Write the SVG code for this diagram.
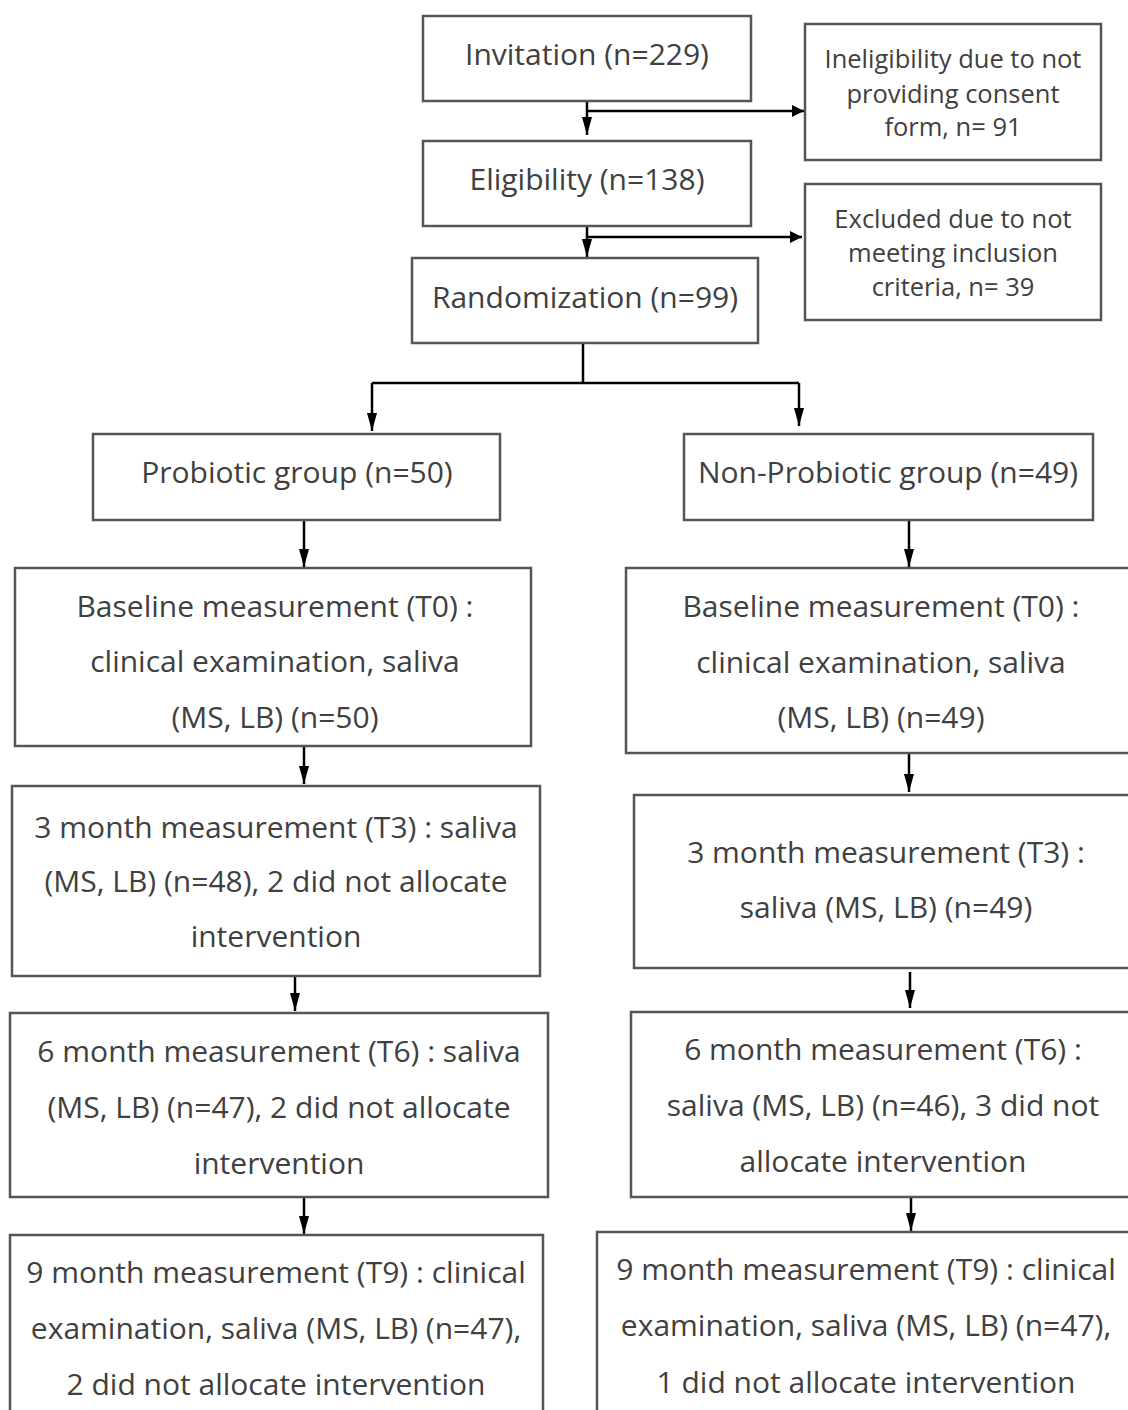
<svg xmlns="http://www.w3.org/2000/svg" width="1128" height="1410" viewBox="0 0 1128 1410">
<style>
.box{fill:#fff;stroke:#555;stroke-width:2.5}
.t{font-family:"Open Sans","Noto Sans",sans-serif;font-size:30px;fill:#404040;text-anchor:middle}
.s{font-family:"Open Sans","Noto Sans",sans-serif;font-size:25.5px;fill:#404040;text-anchor:middle}
.c{stroke:#000;stroke-width:2.5;fill:none}
</style>
<defs>
<marker id="b" viewBox="0 0 18 10" refX="18" refY="5" markerWidth="18" markerHeight="10" markerUnits="userSpaceOnUse" orient="auto">
<path d="M0,0 L18,5 L0,10 z" fill="#000"/>
</marker>
<marker id="h" viewBox="0 0 12 12" refX="12" refY="6" markerWidth="12" markerHeight="12" markerUnits="userSpaceOnUse" orient="auto">
<path d="M0,0 L12,6 L0,12 z" fill="#000"/>
</marker>
</defs>
<rect width="1128" height="1410" fill="#fff"/>
<g id="connectors">
<path class="c" d="M587,101 V135" marker-end="url(#b)"/>
<path class="c" d="M587,111 H804" marker-end="url(#h)"/>
<path class="c" d="M587,226 V257" marker-end="url(#b)"/>
<path class="c" d="M587,237 H802" marker-end="url(#h)"/>
<path class="c" d="M583,343 V383 M372,383 H799"/>
<path class="c" d="M372,383 V431" marker-end="url(#b)"/>
<path class="c" d="M799,383 V426" marker-end="url(#b)"/>
<path class="c" d="M304,520 V567" marker-end="url(#b)"/>
<path class="c" d="M909,520 V567" marker-end="url(#b)"/>
<path class="c" d="M304,746 V784" marker-end="url(#b)"/>
<path class="c" d="M909,753 V792" marker-end="url(#b)"/>
<path class="c" d="M295,976 V1011" marker-end="url(#b)"/>
<path class="c" d="M910,972 V1008" marker-end="url(#b)"/>
<path class="c" d="M304,1197 V1234" marker-end="url(#b)"/>
<path class="c" d="M911,1197 V1231" marker-end="url(#b)"/>
</g>
<g id="invitation"><rect class="box" x="423" y="16" width="328" height="85"/><text class="t" x="587" y="65">Invitation (n=229)</text></g>
<g id="ineligibility"><rect class="box" x="805" y="24" width="296" height="136"/>
<text class="s"><tspan x="953" y="68">Ineligibility due to not</tspan><tspan x="953" y="103">providing consent</tspan><tspan x="953" y="136">form, n= 91</tspan></text></g>
<g id="eligibility"><rect class="box" x="423" y="141" width="328" height="85"/><text class="t" x="587" y="190">Eligibility (n=138)</text></g>
<g id="excluded"><rect class="box" x="805" y="184" width="296" height="136"/>
<text class="s"><tspan x="953" y="228">Excluded due to not</tspan><tspan x="953" y="262">meeting inclusion</tspan><tspan x="953" y="296">criteria, n= 39</tspan></text></g>
<g id="randomization"><rect class="box" x="412" y="258" width="346" height="85"/><text class="t" x="585" y="308">Randomization (n=99)</text></g>
<g id="probiotic"><rect class="box" x="93" y="434" width="407" height="86"/><text class="t" x="297" y="483">Probiotic group (n=50)</text></g>
<g id="nonprobiotic"><rect class="box" x="684" y="434" width="409" height="86"/><text class="t" x="888" y="483">Non-Probiotic group (n=49)</text></g>
<g id="baseline-left"><rect class="box" x="15" y="568" width="516" height="178"/>
<text class="t"><tspan x="275" y="617">Baseline measurement (T0) :</tspan><tspan x="275" y="672">clinical examination, saliva</tspan><tspan x="275" y="728">(MS, LB) (n=50)</tspan></text></g>
<g id="baseline-right"><rect class="box" x="626" y="568" width="510" height="185"/>
<text class="t"><tspan x="881" y="617">Baseline measurement (T0) :</tspan><tspan x="881" y="673">clinical examination, saliva</tspan><tspan x="881" y="728">(MS, LB) (n=49)</tspan></text></g>
<g id="m3-left"><rect class="box" x="12" y="786" width="528" height="190"/>
<text class="t"><tspan x="276" y="838">3 month measurement (T3) : saliva</tspan><tspan x="276" y="892">(MS, LB) (n=48), 2 did not allocate</tspan><tspan x="276" y="947">intervention</tspan></text></g>
<g id="m3-right"><rect class="box" x="634" y="795" width="502" height="173"/>
<text class="t"><tspan x="886" y="863">3 month measurement (T3) :</tspan><tspan x="886" y="918">saliva (MS, LB) (n=49)</tspan></text></g>
<g id="m6-left"><rect class="box" x="10" y="1013" width="538" height="184"/>
<text class="t"><tspan x="279" y="1062">6 month measurement (T6) : saliva</tspan><tspan x="279" y="1118">(MS, LB) (n=47), 2 did not allocate</tspan><tspan x="279" y="1174">intervention</tspan></text></g>
<g id="m6-right"><rect class="box" x="631" y="1012" width="505" height="185"/>
<text class="t"><tspan x="883" y="1060">6 month measurement (T6) :</tspan><tspan x="883" y="1116">saliva (MS, LB) (n=46), 3 did not</tspan><tspan x="883" y="1172">allocate intervention</tspan></text></g>
<g id="m9-left"><rect class="box" x="10" y="1235" width="533" height="185"/>
<text class="t"><tspan x="276" y="1283">9 month measurement (T9) : clinical</tspan><tspan x="276" y="1339">examination, saliva (MS, LB) (n=47),</tspan><tspan x="276" y="1395">2 did not allocate intervention</tspan></text></g>
<g id="m9-right"><rect class="box" x="597" y="1232" width="539" height="188"/>
<text class="t"><tspan x="866" y="1280">9 month measurement (T9) : clinical</tspan><tspan x="866" y="1336">examination, saliva (MS, LB) (n=47),</tspan><tspan x="866" y="1393">1 did not allocate intervention</tspan></text></g>
</svg>
